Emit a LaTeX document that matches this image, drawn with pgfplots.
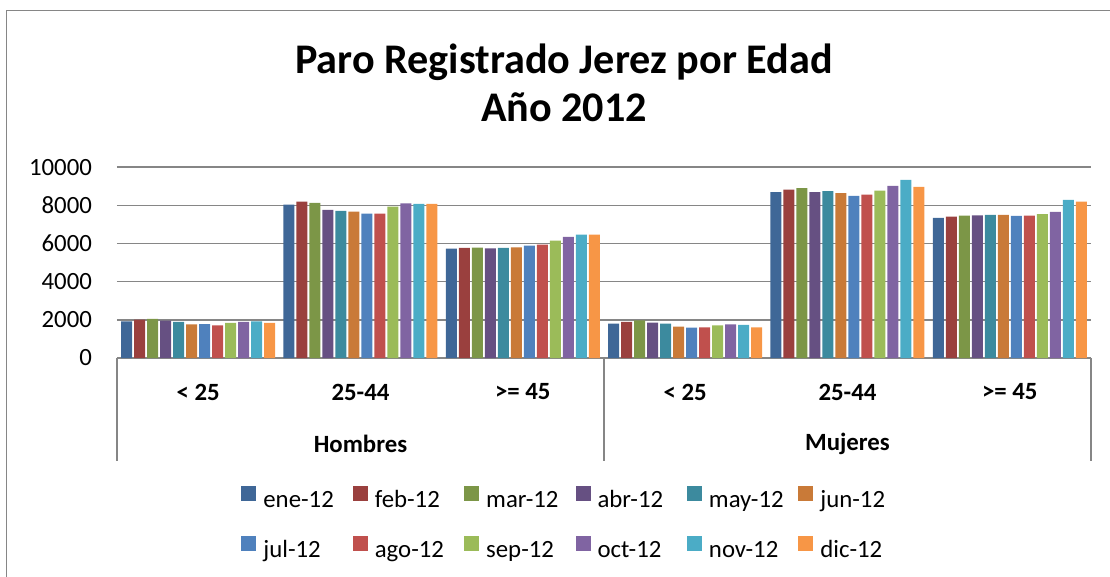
\documentclass[border=0pt]{standalone}
\usepackage{fontspec}
\setmainfont{Carlito}
\usepackage{pgfplots}
\usepackage{pgfplotstable}
\pgfplotsset{compat=1.18}
\definecolor{c1}{HTML}{3F6797}
\definecolor{c2}{HTML}{9A403E}
\definecolor{c3}{HTML}{7C9647}
\definecolor{c4}{HTML}{665082}
\definecolor{c5}{HTML}{3C8A9E}
\definecolor{c6}{HTML}{C97A38}
\definecolor{c7}{HTML}{4F81BD}
\definecolor{c8}{HTML}{C0504D}
\definecolor{c9}{HTML}{9BBB59}
\definecolor{c10}{HTML}{8064A2}
\definecolor{c11}{HTML}{4BACC6}
\definecolor{c12}{HTML}{F79646}
\definecolor{gridgray}{HTML}{868686}

\pgfplotstableread{
x ene feb mar abr may jun jul ago sep oct nov dic
0 1925 2010 2045 1960 1890 1765 1780 1715 1835 1890 1925 1835
1 8040 8200 8130 7760 7710 7675 7570 7570 7935 8110 8075 8075
2 5730 5770 5785 5750 5770 5800 5890 5945 6150 6345 6470 6470
3 1800 1890 1975 1850 1800 1640 1590 1605 1715 1765 1730 1605
4 8690 8825 8900 8690 8740 8635 8495 8565 8775 9020 9335 8965
5 7340 7410 7460 7480 7500 7500 7445 7460 7535 7655 8285 8195
}\datatable

\begin{document}
\begin{tikzpicture}
\useasboundingbox (0,0) rectangle (555pt,-288.5pt);
\draw[gridgray, line width=0.8pt] (3.25pt,-300pt) -- (3.25pt,-5.25pt) -- (560pt,-5.25pt);
\node[font=\bfseries\fontsize{21.1}{24}\selectfont, align=center] at (282pt,-41.5pt) {Paro Registrado Jerez por Edad\\Año 2012};
\begin{axis}[
  at={(58.5pt,-179pt)}, anchor=south west,
  scale only axis, width=487pt, height=95.4pt,
  xmin=-0.5, xmax=5.5, ymin=0, ymax=10000,
  ytick={0,2000,4000,6000,8000,10000},
  xtick={0,1,2,3,4,5},
  xticklabels={{< 25},{25-44},{>= 45},{< 25},{25-44},{>= 45}},
  scaled y ticks=false,
  /pgf/number format/1000 sep={},
  /pgf/number format/assume math mode=true,
  major tick length=0pt,
  axis line style={draw=none},
  ymajorgrids,
  grid style={gridgray, line width=0.75pt},
  clip=false,
  ybar=1pt, bar width=5.5pt,
  yticklabel style={font=\fontsize{12.4}{14}\selectfont, xshift=-9pt},
  xticklabel style={font=\bfseries\fontsize{12.4}{14}\selectfont, anchor=center, yshift=-17pt},
  legend columns=6,
  legend style={at={(0.1273,-0.669)}, anchor=north west, draw=none, inner sep=0pt,
    font=\fontsize{12.4}{14}\selectfont,
    nodes={inner xsep=0pt, inner ysep=0pt, text height=9pt, text depth=3pt, text width=44.7pt, align=left},
    /tikz/every odd column/.append style={column sep=3.5pt},
    row sep=11.7pt},
  legend image code/.code={\fill[#1] (0pt,0pt) rectangle (7.5pt,7.5pt);},
]
\addplot[fill=c1, draw=none] table[x=x, y=ene] {\datatable};
\addplot[fill=c2, draw=none] table[x=x, y=feb] {\datatable};
\addplot[fill=c3, draw=none] table[x=x, y=mar] {\datatable};
\addplot[fill=c4, draw=none] table[x=x, y=abr] {\datatable};
\addplot[fill=c5, draw=none] table[x=x, y=may] {\datatable};
\addplot[fill=c6, draw=none] table[x=x, y=jun] {\datatable};
\addplot[fill=c7, draw=none] table[x=x, y=jul] {\datatable};
\addplot[fill=c8, draw=none] table[x=x, y=ago] {\datatable};
\addplot[fill=c9, draw=none] table[x=x, y=sep] {\datatable};
\addplot[fill=c10, draw=none] table[x=x, y=oct] {\datatable};
\addplot[fill=c11, draw=none] table[x=x, y=nov] {\datatable};
\addplot[fill=c12, draw=none] table[x=x, y=dic] {\datatable};
\legend{ene-12,feb-12,mar-12,abr-12,may-12,jun-12,jul-12,ago-12,sep-12,oct-12,nov-12,dic-12}
\draw[gridgray, line width=0.75pt] (axis cs:-0.5,0) -- ([yshift=-51.5pt]axis cs:-0.5,0);
\draw[gridgray, line width=0.75pt] (axis cs:2.5,0) -- ([yshift=-51.5pt]axis cs:2.5,0);
\draw[gridgray, line width=0.75pt] (axis cs:5.5,0) -- ([yshift=-51.5pt]axis cs:5.5,0);
\node[font=\bfseries\fontsize{12.4}{14}\selectfont] at ([yshift=-43pt]axis cs:1,0) {Hombres};
\node[font=\bfseries\fontsize{12.4}{14}\selectfont] at ([yshift=-43pt]axis cs:4,0) {Mujeres};
\end{axis}
\end{tikzpicture}
\end{document}
